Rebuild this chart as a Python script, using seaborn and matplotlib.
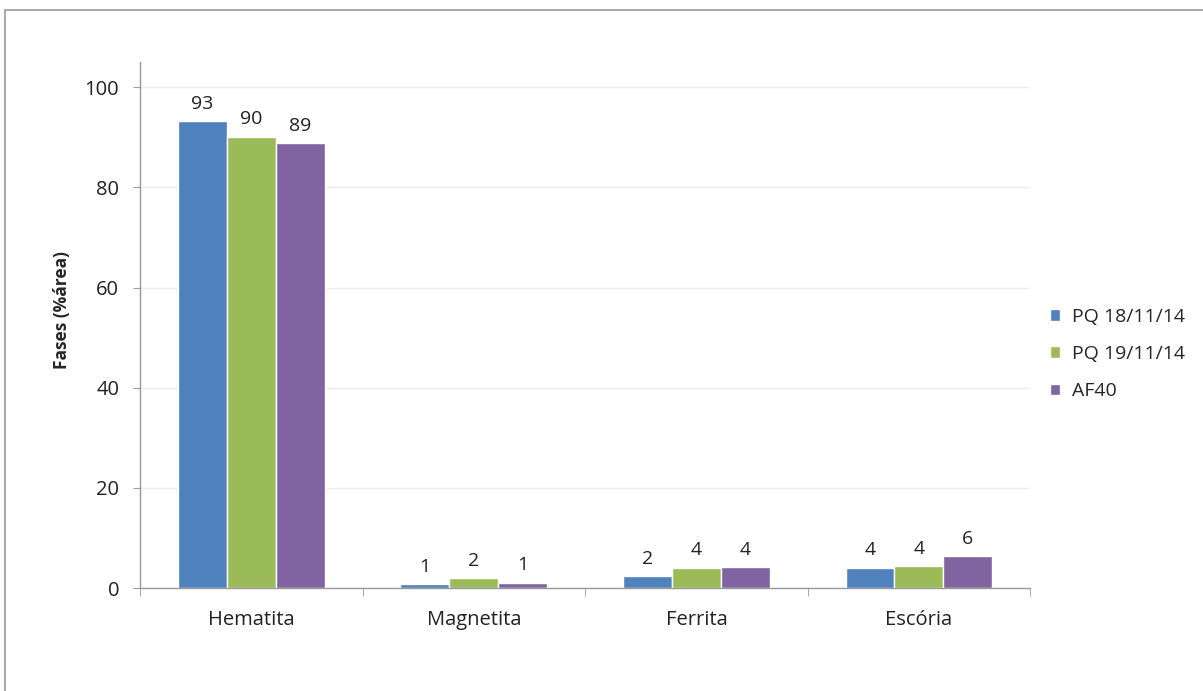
import pandas as pd
import matplotlib.pyplot as plt
import seaborn as sns
from matplotlib.lines import Line2D

# dados
fases = ['Hematita', 'Magnetita', 'Ferrita', 'Escória']
amostras = ['PQ 18/11/14', 'PQ 19/11/14', 'AF40']
pq_18 = [93.2, 0.8, 2.4, 4.1]
pq_19 = [90.1, 2.0, 4.1, 4.4]
af40 = [88.8, 1.1, 4.2, 6.3]
cores = ['#4F81BD', '#9BBB59', '#8064A2']

df = pd.DataFrame({
    'fase': fases * 3,
    'amostra': [a for a in amostras for _ in fases],
    'valor': pq_18 + pq_19 + af40,
})

sns.set_style('white')
plt.rcParams['font.family'] = ['Open Sans', 'DejaVu Sans']

fig = plt.figure(figsize=(12.03, 6.91), dpi=100)
ax = fig.add_axes([0.1164, 0.149, 0.740, 0.761])

sns.barplot(data=df, x='fase', y='valor', hue='amostra', palette=cores,
            width=0.66, saturation=1, ax=ax, legend=True)

for c in ax.containers:
    ax.bar_label(c, fmt='%.0f', padding=6, fontsize=14, color='#222222')

ax.set_xlim(-0.5, 3.5)
ax.set_ylim(0, 105)
ax.set_yticks([0, 20, 40, 60, 80, 100])
ax.yaxis.grid(True, color='#eeeeee', linewidth=1)
ax.set_axisbelow(True)
ax.tick_params(axis='y', direction='out', length=5, color='#999999', left=True,
               labelsize=14.5, pad=10, labelcolor='#222222')
ax.tick_params(axis='x', which='major', length=0, labelsize=14.5, pad=16,
               labelcolor='#222222')
ax.set_xticks([-0.5, 0.5, 1.5, 2.5, 3.5], minor=True)
ax.tick_params(axis='x', which='minor', direction='out', length=6, color='#999999',
               bottom=True)
ax.set_xlabel('')
ax.set_ylabel('Fases (%área)', fontsize=12.5, fontweight='bold')
ax.yaxis.set_label_coords(-0.077, 0.528)
for s in ['top', 'right']:
    ax.spines[s].set_visible(False)
for s in ['left', 'bottom']:
    ax.spines[s].set_color('#999999')
    ax.spines[s].set_linewidth(1)

ax.legend(loc='center left', bbox_to_anchor=(1.0, 0.445), frameon=False,
          fontsize=14, handlelength=0.55, handleheight=0.55, labelspacing=1.0,
          handletextpad=0.6, borderaxespad=0.6)

# moldura do gráfico
fig.add_artist(Line2D([5 / 1203, 1], [1 - 10 / 691, 1 - 10 / 691], color='#aaaaaa', lw=1.5))
fig.add_artist(Line2D([5 / 1203, 5 / 1203], [0, 1 - 10 / 691], color='#aaaaaa', lw=1.5))

fig.savefig('out.png', dpi=100)
